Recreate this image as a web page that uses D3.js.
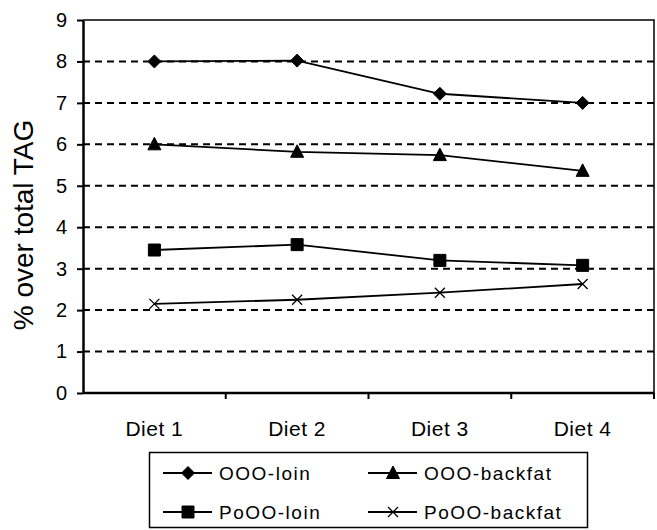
<!DOCTYPE html>
<html>
<head>
<meta charset="utf-8">
<script src="https://cdn.jsdelivr.net/npm/d3@7"></script>
<style>
  body { margin: 0; background: #fff; }
  text { font-family: "Liberation Sans", Arial, sans-serif; fill: #000; }
</style>
</head>
<body>
<div id="chart"></div>
<script>
// Chart data
var diets = ["Diet 1", "Diet 2", "Diet 3", "Diet 4"];
var yTicks = [0, 1, 2, 3, 4, 5, 6, 7, 8, 9];
var seriesNames = ["OOO-loin", "OOO-backfat", "PoOO-loin", "PoOO-backfat"];
var oooLoin = [8.0, 8.02, 7.22, 7.0];
var oooBackfat = [6.0, 5.82, 5.74, 5.36];
var pooLoin = [3.45, 3.58, 3.2, 3.08];
var pooBackfat = [2.15, 2.25, 2.42, 2.63];

var svgWidth = 657;
var svgHeight = 530;

var margin = { top: 20, right: 3, bottom: 137, left: 83 };
var width = svgWidth - margin.left - margin.right;
var height = svgHeight - margin.top - margin.bottom;

var svg = d3.select("#chart")
    .append("svg")
    .attr("width", svgWidth)
    .attr("height", svgHeight);

var chartGroup = svg.append("g")
    .attr("transform", `translate(${margin.left}, ${margin.top})`);

var xScale = d3.scaleBand()
    .domain(diets)
    .range([0, width]);

var yScale = d3.scaleLinear()
    .domain([0, 9])
    .range([height, 0]);

// dashed gridlines
chartGroup.selectAll(".grid")
    .data(yTicks.filter(d => d > 0 && d < 9))
    .enter()
    .append("line")
    .attr("x1", 0)
    .attr("x2", width)
    .attr("y1", d => yScale(d))
    .attr("y2", d => yScale(d))
    .attr("stroke", "#000")
    .attr("stroke-width", 2)
    .attr("stroke-dasharray", "7,5");

// top and right frame
chartGroup.append("path")
    .attr("d", `M0,0H${width}V${height}`)
    .attr("fill", "none")
    .attr("stroke", "#000")
    .attr("stroke-width", 1.5);

// y axis
var leftAxis = d3.axisLeft(yScale).tickValues(yTicks).tickSize(6).tickSizeOuter(0);
var yAxis = chartGroup.append("g").call(leftAxis);
yAxis.select(".domain").attr("stroke-width", 2.5);
yAxis.selectAll(".tick line").attr("stroke-width", 2);
yAxis.selectAll("text")
    .attr("x", -16)
    .attr("font-size", 20)
    .style("font-family", "'Liberation Sans', Arial, sans-serif");

// x axis with ticks at band edges
var xAxis = chartGroup.append("g")
    .attr("transform", `translate(0, ${height})`);
xAxis.append("line")
    .attr("x1", 0).attr("x2", width)
    .attr("stroke", "#000").attr("stroke-width", 2.5);
xAxis.selectAll(".xtick")
    .data(diets.slice(1).concat(["end"]))
    .enter()
    .append("line")
    .attr("x1", d => d === "end" ? width : xScale(d))
    .attr("x2", d => d === "end" ? width : xScale(d))
    .attr("y1", 0).attr("y2", 6)
    .attr("stroke", "#000").attr("stroke-width", 2);
xAxis.selectAll(".xlabel")
    .data(diets)
    .enter()
    .append("text")
    .attr("x", d => xScale(d) + xScale.bandwidth() / 2)
    .attr("y", 43)
    .attr("text-anchor", "middle")
    .attr("font-size", 21)
    .attr("letter-spacing", 0.5)
    .text(d => d);

// y label
chartGroup.append("text")
    .attr("transform", "rotate(-90)")
    .attr("x", 0 - (225 - margin.top))
    .attr("y", -50)
    .attr("text-anchor", "middle")
    .attr("font-size", 28)
    .text("% over total TAG");

var seriesList = [
    { name: seriesNames[0], values: oooLoin, symbol: "diamond" },
    { name: seriesNames[1], values: oooBackfat, symbol: "triangle" },
    { name: seriesNames[2], values: pooLoin, symbol: "square" },
    { name: seriesNames[3], values: pooBackfat, symbol: "x" }
];

var line = d3.line()
    .x((d, i) => xScale(diets[i]) + xScale.bandwidth() / 2)
    .y(d => yScale(d));

function drawMarker(g, s, x, y) {
    if (s.symbol === "x") {
        g.append("path")
            .attr("d", `M${x - 5},${y - 5}L${x + 5},${y + 5}M${x - 5},${y + 5}L${x + 5},${y - 5}`)
            .attr("stroke", "#000")
            .attr("stroke-width", 1.3);
        return;
    }
    var d;
    if (s.symbol === "diamond") {
        d = `M${x},${y - 6.5}L${x + 6.5},${y}L${x},${y + 6.5}L${x - 6.5},${y}Z`;
    } else if (s.symbol === "triangle") {
        d = `M${x},${y - 7}L${x + 6.5},${y + 5.5}L${x - 6.5},${y + 5.5}Z`;
    } else {
        d = `M${x - 6},${y - 6}h12v12h-12Z`;
    }
    g.append("path")
        .attr("d", d)
        .attr("fill", "#000")
        .attr("stroke", "#000")
        .attr("stroke-width", 1)
        .attr("stroke-linejoin", "round");
}

seriesList.forEach(function(s) {
    chartGroup.append("path")
        .datum(s.values)
        .attr("d", line)
        .attr("fill", "none")
        .attr("stroke", "#000")
        .attr("stroke-width", 1.8);
    s.values.forEach(function(v, i) {
        drawMarker(chartGroup, s, xScale(diets[i]) + xScale.bandwidth() / 2, yScale(v));
    });
});

// legend
var legend = svg.append("g");
legend.append("rect")
    .attr("x", 149.5).attr("y", 452.5)
    .attr("width", 438).attr("height", 75)
    .attr("fill", "#fff")
    .attr("stroke", "#000")
    .attr("stroke-width", 1.5);

var legendPos = [
    { x: 163, y: 473 },
    { x: 368, y: 473 },
    { x: 163, y: 512 },
    { x: 368, y: 512 }
];

seriesList.forEach(function(s, i) {
    var p = legendPos[i];
    legend.append("line")
        .attr("x1", p.x).attr("x2", p.x + 49)
        .attr("y1", p.y).attr("y2", p.y)
        .attr("stroke", "#000").attr("stroke-width", 1.8);
    drawMarker(legend, s, p.x + 25, p.y);
    legend.append("text")
        .attr("x", p.x + 56)
        .attr("y", p.y + 7)
        .attr("font-size", 19)
        .attr("letter-spacing", 1.5)
        .text(s.name);
});
</script>
</body>
</html>
